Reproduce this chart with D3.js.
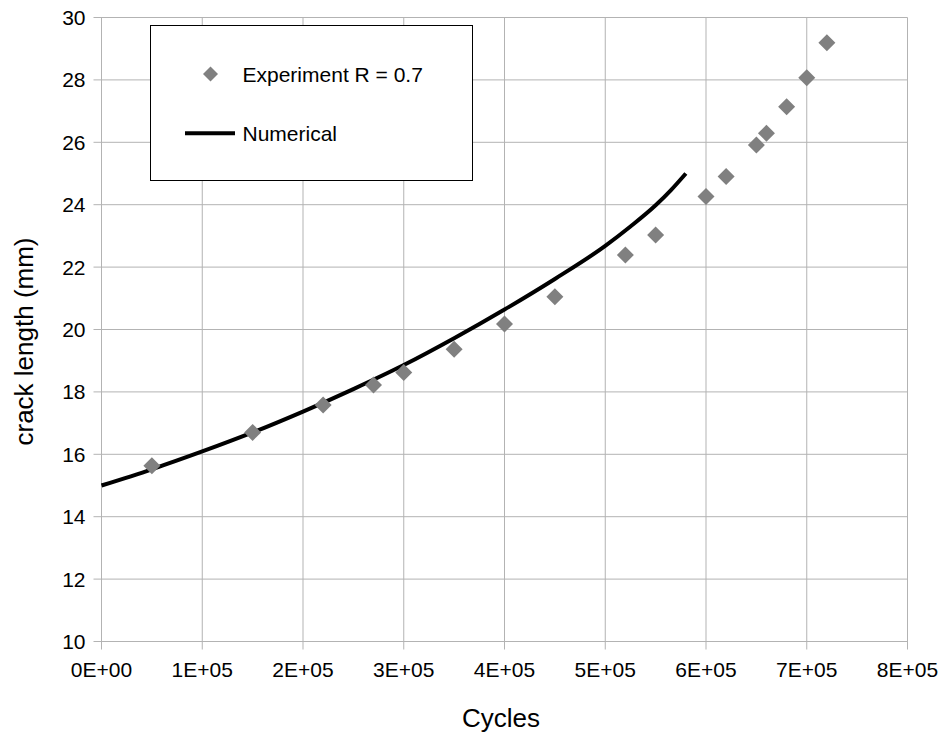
<!DOCTYPE html>
<html>
<head>
<meta charset="utf-8">
<script src="https://cdn.jsdelivr.net/npm/d3@7"></script>
<style>
  html, body { margin: 0; padding: 0; background: #fff; }
  svg { display: block; font-family: "Liberation Sans", Arial, sans-serif; }
</style>
</head>
<body>
<svg id="chart" width="947" height="735"></svg>
<script>
// Experimental crack growth measurements (R = 0.7)
const expCycles = [50000, 150000, 220000, 270000, 300000, 350000, 400000, 450000, 520000, 550000, 600000, 620000, 650000, 660000, 680000, 700000, 720000];
const expCrack  = [15.63, 16.70, 17.58, 18.22, 18.62, 19.37, 20.18, 21.05, 22.39, 23.03, 24.26, 24.90, 25.91, 26.29, 27.14, 28.07, 29.19];

// Numerical prediction of crack length
const numCycles = [0, 50000, 100000, 150000, 200000, 250000, 300000, 350000, 400000, 450000, 500000, 525000, 550000, 565000, 580000];
const numCrack  = [15.00, 15.52, 16.09, 16.70, 17.37, 18.09, 18.86, 19.72, 20.64, 21.62, 22.68, 23.30, 23.98, 24.46, 25.00];

// Axis ticks
const xTicks = [0, 100000, 200000, 300000, 400000, 500000, 600000, 700000, 800000];
const xTickLabels = ["0E+00", "1E+05", "2E+05", "3E+05", "4E+05", "5E+05", "6E+05", "7E+05", "8E+05"];
const yTicks = [10, 12, 14, 16, 18, 20, 22, 24, 26, 28, 30];

const seriesNames = ["Experiment R = 0.7", "Numerical"];

(function () {
  const svg = d3.select("#chart");
  const plotLeft = 101.5, plotRight = 907.5, plotTop = 17.5, plotBottom = 641.5;

  const x = d3.scaleLinear().domain([0, 800000]).range([plotLeft, plotRight]);
  const y = d3.scaleLinear().domain([10, 30]).range([plotBottom, plotTop]);

  const gridColor = "#b3b3b3";

  // Gridlines (extended past the plot edge to form tick marks)
  const grid = svg.append("g");
  grid.selectAll("line.v").data(xTicks).join("line")
    .attr("class", "v")
    .attr("x1", d => x(d)).attr("x2", d => x(d))
    .attr("y1", plotTop).attr("y2", plotBottom + 8)
    .attr("stroke", gridColor).attr("stroke-width", 1);
  grid.selectAll("line.h").data(yTicks).join("line")
    .attr("class", "h")
    .attr("x1", plotLeft - 8).attr("x2", plotRight)
    .attr("y1", d => y(d)).attr("y2", d => y(d))
    .attr("stroke", gridColor).attr("stroke-width", 1);

  // Tick labels
  svg.append("g").selectAll("text").data(xTicks).join("text")
    .attr("x", d => x(d)).attr("y", 677)
    .attr("text-anchor", "middle")
    .attr("font-size", 21).attr("fill", "#000")
    .text((d, i) => xTickLabels[i]);

  svg.append("g").selectAll("text").data(yTicks).join("text")
    .attr("x", 85.5).attr("y", d => y(d) + 7.5)
    .attr("text-anchor", "end")
    .attr("font-size", 21).attr("fill", "#000")
    .text(d => d);

  // Axis titles
  svg.append("text")
    .attr("x", 501).attr("y", 727)
    .attr("text-anchor", "middle")
    .attr("font-size", 26).attr("fill", "#000")
    .text("Cycles");

  svg.append("text")
    .attr("transform", "translate(33,341.5) rotate(-90)")
    .attr("text-anchor", "middle")
    .attr("font-size", 26).attr("fill", "#000")
    .text("crack length (mm)");

  // Numerical curve
  const numData = numCycles.map((c, i) => [c, numCrack[i]]);
  svg.append("path")
    .datum(numData)
    .attr("fill", "none")
    .attr("stroke", "#000")
    .attr("stroke-width", 4)
    .attr("d", d3.line().x(d => x(d[0])).y(d => y(d[1])).curve(d3.curveMonotoneX));

  // Diamond marker
  function diamond(cx, cy, r) {
    return `M${cx},${cy - r}L${cx + r},${cy}L${cx},${cy + r}L${cx - r},${cy}Z`;
  }

  const expData = expCycles.map((c, i) => [c, expCrack[i]]);
  svg.append("g").selectAll("path").data(expData).join("path")
    .attr("d", d => diamond(x(d[0]), y(d[1]), 8.5))
    .attr("fill", "#808080");

  // Legend
  const legend = svg.append("g");
  legend.append("rect")
    .attr("x", 150.5).attr("y", 25.5).attr("width", 322).attr("height", 155)
    .attr("fill", "#fff").attr("stroke", "#000").attr("stroke-width", 1);
  legend.append("path")
    .attr("d", diamond(210.5, 74, 7.5))
    .attr("fill", "#808080");
  legend.append("text")
    .attr("x", 242.5).attr("y", 81.5)
    .attr("font-size", 21).attr("fill", "#000")
    .text(seriesNames[0]);
  legend.append("line")
    .attr("x1", 185).attr("x2", 235).attr("y1", 133.3).attr("y2", 133.3)
    .attr("stroke", "#000").attr("stroke-width", 4);
  legend.append("text")
    .attr("x", 242.5).attr("y", 140.5)
    .attr("font-size", 21).attr("fill", "#000")
    .text(seriesNames[1]);
})();
</script>
</body>
</html>
